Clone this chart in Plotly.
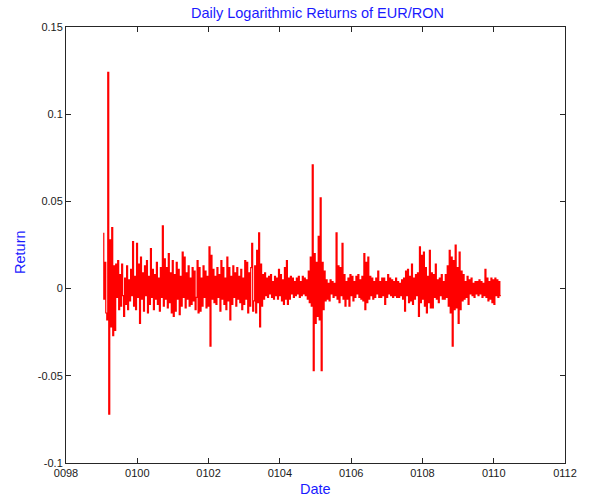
import numpy as np
import plotly.graph_objects as go

# Observation window, in years (tick labels use the four-digit "00yy" form)
start_year = 99.06
end_year = 110.2

# Daily log returns of EUR/RON (subsampled extremes, chronological order)
returns = [
    # 1999 - 2001
    0.032, -0.006, 0.015, -0.014, -0.018, 0.124, -0.072, 0.028, -0.022, 0.035,
    -0.027,
    0.013, -0.024, 0.014, -0.005, 0.016, -0.012, 0.008, -0.010, 0.014, -0.004,
    -0.016, 0.006, -0.009, 0.013, -0.012, 0.005, -0.007, 0.011, -0.004, 0.027,
    -0.010, 0.007, -0.012, 0.026, -0.005, 0.014, -0.020, 0.018, -0.006, 0.009,
    -0.013, 0.013, -0.004, 0.016, -0.014, 0.007, -0.009, 0.023, -0.005, 0.011,
    -0.012, 0.008, -0.006, 0.015, -0.009, 0.006, -0.013, 0.012, -0.005, 0.036,
    -0.010, 0.017, -0.006, 0.012, -0.011, 0.020, -0.008, 0.009, -0.014, 0.016,
    -0.016, 0.008, -0.013, 0.015, -0.006, 0.011, -0.015, 0.007, -0.010, 0.021,
    -0.005, 0.018, -0.011, 0.009, -0.006, 0.013, -0.010, 0.006, -0.009, 0.012,
    -0.007, 0.010, -0.012, -0.005, 0.016, -0.014,
    # 2002 - 2004
    0.012, -0.013, 0.006, -0.010, 0.013, -0.005, 0.010, -0.011, 0.007, -0.010,
    0.024, -0.033, 0.019, -0.006, 0.011, -0.008, 0.007, -0.009, 0.012, -0.005,
    0.008, -0.013, 0.016, -0.006, 0.012, -0.009, 0.006, -0.012, 0.018, -0.007,
    0.012, -0.018, 0.007, -0.009, 0.013, -0.005, 0.009, -0.010, 0.012, -0.006,
    0.007, -0.008, 0.011, -0.012, 0.006, -0.009, 0.016, -0.006, 0.015, -0.014,
    0.009, -0.010, 0.012, 0.026, -0.013, -0.007, 0.013, -0.014, 0.022, -0.008,
    0.032, -0.022, 0.014, -0.010, 0.008, -0.006, 0.009, -0.004, 0.006, -0.005,
    0.007, -0.003, 0.008, -0.005, 0.004, -0.006, 0.007, -0.004, 0.006, -0.006,
    0.011, -0.004, 0.008, -0.007, 0.005, -0.009, 0.012, -0.006, 0.016, -0.009,
    0.006, -0.006, 0.007, -0.003, 0.006, -0.005, 0.004, -0.004, 0.006, -0.003,
    # 2005 - 2007
    0.007, -0.005, 0.004, -0.004, 0.007, -0.003, 0.006, -0.004, 0.005, -0.006,
    0.010, -0.008, 0.018, -0.010, 0.071, -0.047, 0.020, -0.020, 0.015, -0.016,
    0.030, -0.018, 0.052, -0.047, 0.015, -0.012, 0.010, -0.007, 0.005, -0.006,
    0.003, -0.007, 0.005, -0.003, 0.004, -0.005, 0.003, -0.004, 0.032, -0.006,
    0.013, -0.008, 0.012, -0.004, 0.026, -0.006, 0.008, -0.010, 0.004, -0.006,
    0.006, -0.010, 0.008, -0.004, 0.007, -0.007, 0.004, -0.005, 0.007, -0.003,
    0.008, -0.005, 0.005, -0.006, 0.007, -0.007, 0.020, -0.012, 0.015, -0.008,
    0.018, -0.006, 0.007, -0.004, 0.006, -0.006, 0.004, -0.005, 0.006, -0.003,
    0.010, -0.005, 0.004, -0.005, 0.006, -0.004, 0.006, -0.009, 0.004, -0.005,
    0.008, -0.003, 0.006, -0.004, 0.005, -0.005, 0.004, -0.004, 0.006, -0.005,
    # 2008 - 2010
    0.004, -0.005, 0.003, -0.004, 0.005, -0.006, 0.006, -0.013, 0.010, -0.004,
    0.011, -0.008, 0.007, -0.007, 0.014, -0.009, 0.006, -0.006, 0.008, -0.004,
    0.009, -0.016, 0.024, -0.008, 0.019, -0.006, 0.021, -0.010, 0.012, -0.014,
    0.007, -0.008, 0.022, -0.011, 0.009, -0.011, 0.008, -0.005, 0.014, -0.006,
    0.005, -0.008, 0.006, -0.004, 0.008, -0.006, 0.004, -0.006, 0.008, -0.005,
    0.013, -0.010, 0.022, -0.014, 0.018, -0.033, 0.016, -0.012, 0.025, -0.011,
    0.012, -0.020, 0.021, -0.012, 0.010, -0.007, 0.008, -0.006, 0.004, -0.005,
    0.007, -0.009, 0.005, -0.003, 0.006, -0.004, 0.003, -0.005, 0.004, -0.003,
    0.004, -0.004, 0.005, -0.003, 0.004, -0.005, 0.003, -0.004, 0.011, -0.005,
    0.006, -0.007, 0.004, -0.006, 0.006, -0.008, 0.005, -0.009, 0.006, -0.004,
    0.005, -0.005, 0.004, -0.004,
]

dates = np.linspace(start_year, end_year, len(returns))

year_ticks = [98, 100, 102, 104, 106, 108, 110, 112]
year_labels = ["0098", "0100", "0102", "0104", "0106", "0108", "0110", "0112"]
return_ticks = [-0.1, -0.05, 0, 0.05, 0.1, 0.15]
return_labels = ["-0.1", "-0.05", "0", "0.05", "0.1", "0.15"]

FONT = "Liberation Sans, Arial, sans-serif"
BLUE = "#1a1aff"

# Each return is drawn as a vertical stroke from the previous value,
# which gives the dense trace of a long daily series.
fig = go.Figure(
    go.Scatter(
        x=dates,
        y=returns,
        mode="lines",
        line=dict(color="#ff0000", width=1.2, shape="vh"),
        hoverinfo="skip",
    )
)

axis_common = dict(
    showgrid=False,
    zeroline=False,
    showline=True,
    linecolor="#262626",
    linewidth=1,
    mirror="ticks",
    ticks="inside",
    ticklen=5,
    tickcolor="#262626",
    tickfont=dict(family=FONT, size=11, color="#1a1a1a"),
)

fig.update_layout(
    width=589,
    height=501,
    margin=dict(l=66, r=20, t=27, b=38),
    paper_bgcolor="white",
    plot_bgcolor="white",
    showlegend=False,
    title=dict(
        text="Daily Logarithmic Returns of EUR/RON",
        font=dict(family=FONT, size=14.5, color=BLUE),
        x=0.539,
        xanchor="center",
        y=0.974,
        yanchor="middle",
    ),
    xaxis=dict(
        range=[98, 112],
        tickvals=year_ticks,
        ticktext=year_labels,
        **axis_common,
    ),
    yaxis=dict(
        range=[-0.1, 0.15],
        tickvals=return_ticks,
        ticktext=return_labels,
        **axis_common,
    ),
    annotations=[
        dict(
            text="Date",
            xref="paper", yref="paper",
            x=0.5, y=0,
            yshift=-26,
            xanchor="center", yanchor="middle",
            showarrow=False,
            font=dict(family=FONT, size=14.5, color=BLUE),
        ),
        dict(
            text="Return",
            xref="paper", yref="paper",
            x=0, y=0.484,
            xshift=-46,
            xanchor="center", yanchor="middle",
            textangle=-90,
            showarrow=False,
            font=dict(family=FONT, size=14.5, color=BLUE),
        ),
    ],
)

fig.write_html("out.html")
